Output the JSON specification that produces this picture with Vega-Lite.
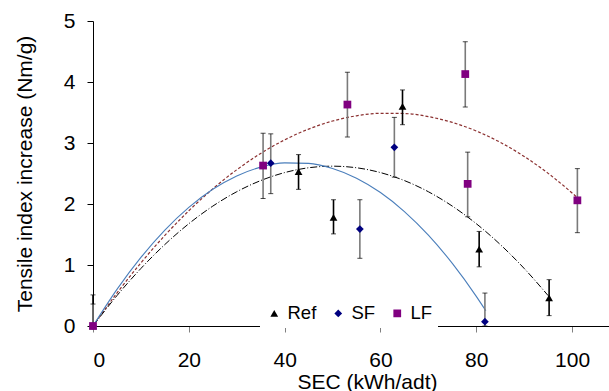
{
  "$schema": "https://vega.github.io/schema/vega-lite/v6.json",
  "width": 516,
  "height": 305,
  "autosize": "none",
  "padding": {"left": 93, "top": 21, "right": 0, "bottom": 65},
  "background": "white",
  "config": {
    "view": {"stroke": null},
    "font": "Liberation Sans",
    "axis": {"grid": false, "labelFont": "Liberation Sans", "titleFont": "Liberation Sans"},
    "legend": {"labelFont": "Liberation Sans"}
  },
  "datasets": {
    "pts": [
      {"series": "Ref", "sec": 0, "ti": 0, "lo": 0, "hi": 0.51},
      {"series": "Ref", "sec": 42.9, "ti": 2.53, "lo": 2.24, "hi": 2.81},
      {"series": "Ref", "sec": 50.2, "ti": 1.78, "lo": 1.51, "hi": 2.07},
      {"series": "Ref", "sec": 64.6, "ti": 3.6, "lo": 3.3, "hi": 3.87},
      {"series": "Ref", "sec": 80.6, "ti": 1.26, "lo": 0.97, "hi": 1.55},
      {"series": "Ref", "sec": 95.2, "ti": 0.46, "lo": 0.17, "hi": 0.76},
      {"series": "SF", "sec": 0, "ti": 0, "lo": 0, "hi": 0.36},
      {"series": "SF", "sec": 37.1, "ti": 2.67, "lo": 2.17, "hi": 3.15},
      {"series": "SF", "sec": 55.7, "ti": 1.59, "lo": 1.11, "hi": 2.07},
      {"series": "SF", "sec": 62.9, "ti": 2.93, "lo": 2.44, "hi": 3.42},
      {"series": "SF", "sec": 81.8, "ti": 0.07, "lo": 0, "hi": 0.54},
      {"series": "LF", "sec": 0, "ti": 0, "lo": 0, "hi": 0},
      {"series": "LF", "sec": 35.5, "ti": 2.63, "lo": 2.09, "hi": 3.16},
      {"series": "LF", "sec": 53.1, "ti": 3.63, "lo": 3.1, "hi": 4.16},
      {"series": "LF", "sec": 77.7, "ti": 4.13, "lo": 3.59, "hi": 4.66},
      {"series": "LF", "sec": 78.2, "ti": 2.33, "lo": 1.79, "hi": 2.85},
      {"series": "LF", "sec": 101.1, "ti": 2.06, "lo": 1.53, "hi": 2.58}
    ],
    "fit": [
      {"series": "SF", "sec": 0, "ti": 0},
      {"series": "SF", "sec": 5, "ti": 0.6},
      {"series": "SF", "sec": 10, "ti": 1.124},
      {"series": "SF", "sec": 15, "ti": 1.572},
      {"series": "SF", "sec": 20, "ti": 1.944},
      {"series": "SF", "sec": 25, "ti": 2.241},
      {"series": "SF", "sec": 30, "ti": 2.461},
      {"series": "SF", "sec": 35, "ti": 2.605},
      {"series": "SF", "sec": 40, "ti": 2.674},
      {"series": "SF", "sec": 45, "ti": 2.666},
      {"series": "SF", "sec": 50, "ti": 2.582},
      {"series": "SF", "sec": 55, "ti": 2.423},
      {"series": "SF", "sec": 60, "ti": 2.188},
      {"series": "SF", "sec": 65, "ti": 1.876},
      {"series": "SF", "sec": 70, "ti": 1.489},
      {"series": "SF", "sec": 75, "ti": 1.026},
      {"series": "SF", "sec": 80, "ti": 0.486},
      {"series": "SF", "sec": 82, "ti": 0.249},
      {"series": "Ref", "sec": 0, "ti": 0},
      {"series": "Ref", "sec": 5, "ti": 0.498},
      {"series": "Ref", "sec": 10, "ti": 0.943},
      {"series": "Ref", "sec": 15, "ti": 1.336},
      {"series": "Ref", "sec": 20, "ti": 1.677},
      {"series": "Ref", "sec": 25, "ti": 1.965},
      {"series": "Ref", "sec": 30, "ti": 2.201},
      {"series": "Ref", "sec": 35, "ti": 2.384},
      {"series": "Ref", "sec": 40, "ti": 2.515},
      {"series": "Ref", "sec": 45, "ti": 2.594},
      {"series": "Ref", "sec": 50, "ti": 2.62},
      {"series": "Ref", "sec": 55, "ti": 2.594},
      {"series": "Ref", "sec": 60, "ti": 2.515},
      {"series": "Ref", "sec": 65, "ti": 2.384},
      {"series": "Ref", "sec": 70, "ti": 2.201},
      {"series": "Ref", "sec": 75, "ti": 1.965},
      {"series": "Ref", "sec": 80, "ti": 1.677},
      {"series": "Ref", "sec": 85, "ti": 1.336},
      {"series": "Ref", "sec": 90, "ti": 0.943},
      {"series": "Ref", "sec": 95, "ti": 0.498},
      {"series": "LF", "sec": 0, "ti": 0},
      {"series": "LF", "sec": 5, "ti": 0.54},
      {"series": "LF", "sec": 10, "ti": 1.035},
      {"series": "LF", "sec": 15, "ti": 1.485},
      {"series": "LF", "sec": 20, "ti": 1.889},
      {"series": "LF", "sec": 25, "ti": 2.248},
      {"series": "LF", "sec": 30, "ti": 2.561},
      {"series": "LF", "sec": 35, "ti": 2.829},
      {"series": "LF", "sec": 40, "ti": 3.051},
      {"series": "LF", "sec": 45, "ti": 3.228},
      {"series": "LF", "sec": 50, "ti": 3.36},
      {"series": "LF", "sec": 55, "ti": 3.446},
      {"series": "LF", "sec": 60, "ti": 3.487},
      {"series": "LF", "sec": 65, "ti": 3.483},
      {"series": "LF", "sec": 70, "ti": 3.433},
      {"series": "LF", "sec": 75, "ti": 3.337},
      {"series": "LF", "sec": 80, "ti": 3.197},
      {"series": "LF", "sec": 85, "ti": 3.011},
      {"series": "LF", "sec": 90, "ti": 2.779},
      {"series": "LF", "sec": 95, "ti": 2.502},
      {"series": "LF", "sec": 100, "ti": 2.18},
      {"series": "LF", "sec": 101, "ti": 2.11}
    ]
  },
  "layer": [
    {
      "data": {"name": "fit"},
      "transform": [{"filter": "datum.series === 'LF'"}],
      "mark": {"type": "line", "color": "#8B3030", "strokeWidth": 1.2, "strokeDash": [3, 2], "interpolate": "monotone"},
      "encoding": {
        "x": {
          "field": "sec", "type": "quantitative",
          "scale": {"domain": [0, 107.7], "nice": false, "zero": false},
          "axis": {
            "values": [0, 20, 40, 60, 80, 100], "format": "d",
            "labelFontSize": 21, "labelColor": "black", "labelPadding": 17,
            "tickSize": 6, "tickColor": "#808080", "domainColor": "black", "domainWidth": 1,
            "title": "SEC (kWh/adt)", "titleFontSize": 21, "titleFontWeight": "normal", "titleColor": "black",
            "titleX": 274, "titleY": 45, "titleBaseline": "top"
          }
        },
        "y": {
          "field": "ti", "type": "quantitative",
          "scale": {"domain": [0, 5], "nice": false},
          "axis": {
            "values": [0, 1, 2, 3, 4, 5], "format": "d",
            "labelFontSize": 21, "labelColor": "black", "labelPadding": 12,
            "tickSize": 6, "tickColor": "black", "domainColor": "black", "domainWidth": 1,
            "title": "Tensile index increase (Nm/g)", "titleFontSize": 21, "titleFontWeight": "normal", "titleColor": "black",
            "titlePadding": 28
          }
        }
      }
    },
    {
      "data": {"name": "fit"},
      "transform": [{"filter": "datum.series === 'Ref'"}],
      "mark": {"type": "line", "color": "black", "strokeWidth": 1, "strokeDash": [7, 2, 1, 2], "interpolate": "monotone"},
      "encoding": {
        "x": {"field": "sec", "type": "quantitative"},
        "y": {"field": "ti", "type": "quantitative"}
      }
    },
    {
      "data": {"name": "fit"},
      "transform": [{"filter": "datum.series === 'SF'"}],
      "mark": {"type": "line", "color": "#4A7EBB", "strokeWidth": 1.1, "interpolate": "monotone"},
      "encoding": {
        "x": {"field": "sec", "type": "quantitative"},
        "y": {"field": "ti", "type": "quantitative"}
      }
    },
    {
      "data": {"name": "pts"},
      "mark": {"type": "rule", "strokeWidth": 1.6},
      "encoding": {
        "x": {"field": "sec", "type": "quantitative"},
        "y": {"field": "lo", "type": "quantitative"},
        "y2": {"field": "hi"},
        "color": {"condition": {"test": "datum.series === 'Ref'", "value": "black"}, "value": "#7a7a7a"}
      }
    },
    {
      "data": {"name": "pts"},
      "mark": {"type": "tick", "orient": "horizontal", "size": 5, "thickness": 1, "color": "black"},
      "encoding": {
        "x": {"field": "sec", "type": "quantitative"},
        "y": {"field": "hi", "type": "quantitative"}
      }
    },
    {
      "data": {"name": "pts"},
      "mark": {"type": "tick", "orient": "horizontal", "size": 5, "thickness": 1, "color": "black"},
      "encoding": {
        "x": {"field": "sec", "type": "quantitative"},
        "y": {"field": "lo", "type": "quantitative"}
      }
    },
    {
      "data": {"name": "pts"},
      "mark": {"type": "point", "filled": true, "opacity": 1, "size": 60, "strokeWidth": 0},
      "encoding": {
        "x": {"field": "sec", "type": "quantitative"},
        "y": {"field": "ti", "type": "quantitative"},
        "color": {
          "field": "series", "type": "nominal",
          "scale": {"domain": ["Ref", "SF", "LF"], "range": ["black", "#000080", "#800080"]},
          "legend": {
            "title": null, "orient": "none", "legendX": 167, "legendY": 278,
            "direction": "horizontal", "fillColor": "white", "padding": 5,
            "labelFontSize": 18.5, "labelColor": "black", "symbolSize": 60, "labelOffset": 4,
            "columnPadding": 12, "symbolStrokeWidth": 0
          }
        },
        "shape": {
          "field": "series", "type": "nominal",
          "scale": {"domain": ["Ref", "SF", "LF"], "range": ["triangle-up", "diamond", "square"]},
          "legend": {
            "title": null, "orient": "none", "legendX": 167, "legendY": 278,
            "direction": "horizontal", "fillColor": "white", "padding": 5,
            "labelFontSize": 18.5, "labelColor": "black", "symbolSize": 60, "labelOffset": 4,
            "columnPadding": 12, "symbolStrokeWidth": 0
          }
        }
      }
    }
  ]
}
